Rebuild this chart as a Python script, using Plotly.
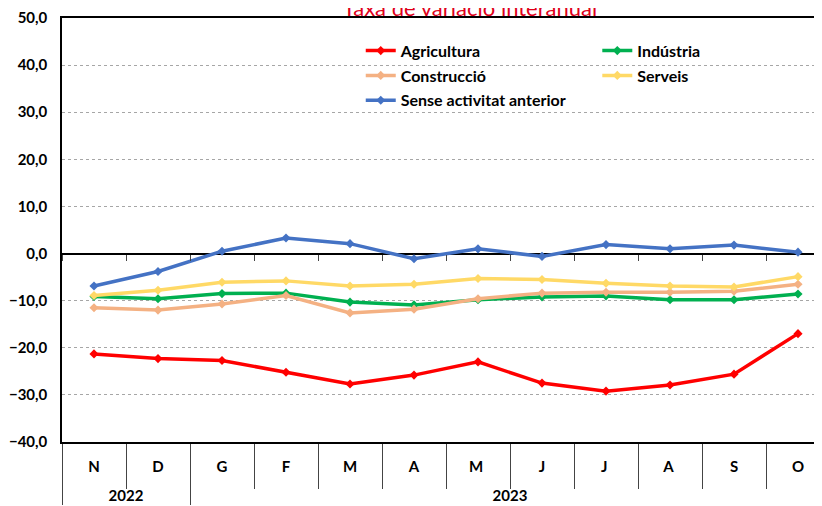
import plotly.graph_objects as go

# Chart data
months = ["N", "D", "G", "F", "M", "A", "M", "J", "J", "A", "S", "O"]
years = ["2022", "2022", "2023", "2023", "2023", "2023",
         "2023", "2023", "2023", "2023", "2023", "2023"]

agricultura = [-21.3, -22.3, -22.7, -25.2, -27.7, -25.8, -23.0, -27.5, -29.2, -27.9, -25.6, -17.0]
industria = [-9.1, -9.6, -8.5, -8.4, -10.3, -10.9, -9.8, -9.2, -9.0, -9.8, -9.8, -8.6]
construccio = [-11.5, -12.0, -10.7, -8.9, -12.6, -11.8, -9.6, -8.4, -8.2, -8.2, -8.0, -6.5]
serveis = [-8.9, -7.8, -6.1, -5.8, -6.9, -6.5, -5.3, -5.5, -6.3, -6.9, -7.1, -4.9]
sense_activitat = [-6.9, -3.8, 0.5, 3.3, 2.1, -1.1, 1.0, -0.6, 1.9, 1.0, 1.8, 0.3]

y_ticks = [50, 40, 30, 20, 10, 0, -10, -20, -30, -40]

# month letters repeat (M, A, J), so make each category unique with trailing spaces
labels = []
for m in months:
    lab = m
    while lab in labels:
        lab += " "
    labels.append(lab)

# push the year row one line lower, like the Excel two-level axis
year_labels = ["<br>" + y for y in years]

FONT = "Lato"
x_multi = [year_labels, labels]

series = [
    ("Agricultura", agricultura, "#FF0000", "legend"),
    ("Indústria", industria, "#00B050", "legend2"),
    ("Construcció", construccio, "#F4B183", "legend"),
    ("Serveis", serveis, "#FFD966", "legend2"),
    ("Sense activitat anterior", sense_activitat, "#4472C4", "legend"),
]

fig = go.Figure()

for name, vals, color, leg in series:
    fig.add_trace(go.Scatter(
        x=x_multi,
        y=vals,
        mode="lines+markers",
        name=name,
        legend=leg,
        legendgroup=name,
        line=dict(color=color, width=3.5),
        marker=dict(symbol="diamond", size=7, color=color),
    ))

# helper trace so the tick marks along the zero line get drawn
fig.add_trace(go.Scatter(
    x=labels,
    y=[0] * len(labels),
    xaxis="x2",
    mode="lines",
    line=dict(width=0),
    opacity=0,
    showlegend=False,
    hoverinfo="skip",
))

x_range = [-0.5, 11.5]
legend_font = dict(family=FONT, size=16, weight="bold", color="black")

fig.update_layout(
    width=822,
    height=506,
    margin=dict(l=54, r=0, t=10, b=72),
    paper_bgcolor="white",
    plot_bgcolor="white",
    separators=",.",
    font=dict(family=FONT, size=14, color="black"),
    title=dict(
        text="Taxa de variació interanual",
        font=dict(family=FONT, size=22, color="#E0001A"),
        x=0.562,
        xanchor="center",
        y=1.0,
        yanchor="middle",
        yref="container",
    ),
    xaxis=dict(
        type="multicategory",
        range=x_range,
        showline=True,
        linecolor="black",
        linewidth=1.5,
        mirror=True,
        ticks="outside",
        tickson="boundaries",
        ticklen=45,
        tickcolor="#444",
        tickwidth=1,
        ticklabelstandoff=10,
        showdividers=True,
        dividercolor="#444",
        dividerwidth=1,
        showgrid=False,
        automargin=False,
        tickfont=dict(family=FONT, size=15, weight="bold", color="black"),
    ),
    xaxis2=dict(
        type="category",
        overlaying="x",
        anchor="free",
        position=40 / 90,
        range=x_range,
        showticklabels=False,
        ticks="outside",
        tickson="boundaries",
        ticklen=6,
        tickcolor="#444",
        tickwidth=1.2,
        showline=False,
        showgrid=False,
        zeroline=False,
    ),
    yaxis=dict(
        range=[-40, 50],
        tickvals=y_ticks,
        tickformat=".1f",
        showline=True,
        linecolor="black",
        linewidth=1.5,
        showgrid=True,
        gridcolor="#a6a6a6",
        griddash="dot",
        gridwidth=1,
        zeroline=True,
        zerolinecolor="black",
        zerolinewidth=1.5,
        ticks="",
        ticklabelstandoff=10,
        automargin=False,
        tickfont=dict(family=FONT, size=15, weight="bold", color="black"),
    ),
    legend=dict(
        x=0.389,
        y=0.963,
        xanchor="left",
        yanchor="top",
        orientation="v",
        bgcolor="rgba(0,0,0,0)",
        itemwidth=30,
        tracegroupgap=1,
        font=legend_font,
    ),
    legend2=dict(
        x=0.697,
        y=0.963,
        xanchor="left",
        yanchor="top",
        orientation="v",
        bgcolor="rgba(0,0,0,0)",
        itemwidth=30,
        tracegroupgap=1,
        font=legend_font,
    ),
    hovermode="x unified",
)

fig.write_html("out.html")
